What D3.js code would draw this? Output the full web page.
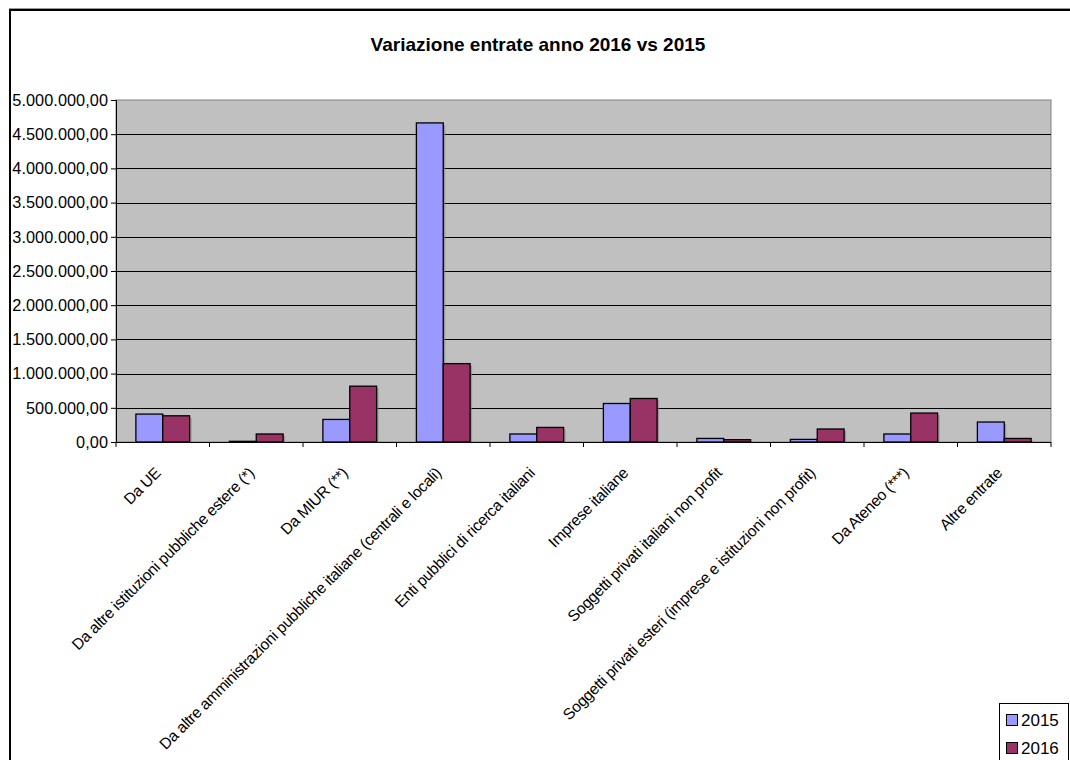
<!DOCTYPE html>
<html>
<head>
<meta charset="utf-8">
<script src="https://cdn.jsdelivr.net/npm/d3@7"></script>
<style>
  html, body { margin: 0; padding: 0; background: #fff; }
  svg { display: block; font-family: "Liberation Sans", Arial, sans-serif; }
</style>
</head>
<body>
<svg id="chart" width="1070" height="760"></svg>
<script>
const categories = [
  "Da UE",
  "Da altre istituzioni pubbliche estere (*)",
  "Da MIUR (**)",
  "Da altre amministrazioni pubbliche italiane (centrali e locali)",
  "Enti pubblici di ricerca italiani",
  "Imprese italiane",
  "Soggetti privati italiani non profit",
  "Soggetti privati esteri (imprese e istituzioni non profit)",
  "Da Ateneo (***)",
  "Altre entrate"
];
const seriesNames = ["2015", "2016"];
const values2015 = [408000, 10000, 330000, 4665000, 117000, 563000, 52000, 38000, 117000, 292000];
const values2016 = [383000, 117000, 816000, 1146000, 213000, 636000, 34000, 190000, 423000, 52000];
const yTicks = [0, 500000, 1000000, 1500000, 2000000, 2500000, 3000000, 3500000, 4000000, 4500000, 5000000];
const colors = ["#9999FF", "#993366"];
const title = "Variazione entrate anno 2016 vs 2015";

const svg = d3.select("#chart");
const W = 1070, H = 760;
const plot = { left: 116, right: 1051, top: 100, bottom: 442 };

// outer chart border
svg.append("rect").attr("x", 10).attr("y", 10).attr("width", W + 10).attr("height", H + 10)
  .attr("fill", "#fff").attr("stroke", "#000").attr("stroke-width", 2);
svg.append("line").attr("x1", 9).attr("x2", W).attr("y1", 8.5).attr("y2", 8.5)
  .attr("stroke", "#999").attr("stroke-width", 1);

svg.append("text").attr("x", 538).attr("y", 51).attr("text-anchor", "middle")
  .attr("font-weight", "bold").attr("font-size", 19).text(title);

const x0 = d3.scaleBand().domain(categories).range([plot.left, plot.right]).paddingInner(0).paddingOuter(0);
const x1 = d3.scaleBand().domain(seriesNames).range([0, x0.bandwidth()]).paddingInner(0).paddingOuter(0.74);
const y = d3.scaleLinear().domain([0, 5000000]).range([plot.bottom, plot.top]);

// plot background
svg.append("rect").attr("x", plot.left).attr("y", plot.top)
  .attr("width", plot.right - plot.left).attr("height", plot.bottom - plot.top)
  .attr("fill", "#C0C0C0").attr("stroke", "#808080").attr("stroke-width", 1);

// gridlines
svg.append("g").selectAll("line").data(yTicks.filter(d => d > 0 && d < 5000000)).join("line")
  .attr("x1", plot.left).attr("x2", plot.right)
  .attr("y1", d => Math.round(y(d)) + 0.5).attr("y2", d => Math.round(y(d)) + 0.5)
  .attr("stroke", "#000").attr("stroke-width", 1);

const fmt = d => {
  const s = d3.format(",.2f")(d);
  return s.replace(/,/g, "#").replace(/\./g, ",").replace(/#/g, ".");
};

// bars
const series = [values2015, values2016];
const g = svg.append("g");
seriesNames.forEach((name, si) => {
  const vals = series[si];
  g.selectAll(null).data(categories).join("rect")
    .attr("x", (c) => x0(c) + x1(name) + 2)
    .attr("y", (c, i) => y(vals[i]) + 2)
    .attr("width", x1.bandwidth())
    .attr("height", (c, i) => Math.max(0, plot.bottom - y(vals[i]) - 2))
    .attr("fill", "#808080").attr("opacity", 0.6);
});
seriesNames.forEach((name, si) => {
  const vals = series[si];
  g.selectAll(null).data(categories).join("rect")
    .attr("x", (c) => x0(c) + x1(name))
    .attr("y", (c, i) => y(vals[i]))
    .attr("width", x1.bandwidth())
    .attr("height", (c, i) => plot.bottom - y(vals[i]))
    .attr("fill", colors[si]).attr("stroke", "#000").attr("stroke-width", 1.3);
});

// y axis
const yAxis = d3.axisLeft(y).tickValues(yTicks).tickSize(5).tickFormat(fmt);
const ya = svg.append("g").attr("transform", `translate(${plot.left},0)`).call(yAxis);
ya.select(".domain").attr("stroke", "#000");
ya.selectAll("text").attr("font-size", 16.3).attr("font-family", "Liberation Sans, Arial, sans-serif")
  .attr("fill", "#000").attr("x", -8).attr("letter-spacing", 0.05);

// x axis
const xa = svg.append("g").attr("transform", `translate(0,${plot.bottom})`);
xa.append("line").attr("x1", plot.left).attr("x2", plot.right).attr("y1", 0.5).attr("y2", 0.5).attr("stroke", "#000");
const tickPos = categories.map(c => x0(c)).concat([plot.right]);
xa.selectAll("line.tk").data(tickPos).join("line").attr("class", "tk")
  .attr("x1", d => d).attr("x2", d => d).attr("y1", 0).attr("y2", 5).attr("stroke", "#000");
xa.selectAll("text").data(categories).join("text")
  .attr("transform", c => `translate(${x0(c) + x0.bandwidth() / 2 - 1},32) rotate(-45)`)
  .attr("text-anchor", "end").attr("font-size", 15.6).attr("letter-spacing", -0.3).text(c => c);

// legend
const lg = svg.append("g");
lg.append("rect").attr("x", 999.5).attr("y", 703.5).attr("width", 69).attr("height", 60)
  .attr("fill", "#fff").attr("stroke", "#000").attr("stroke-width", 1);
seriesNames.forEach((name, i) => {
  const yy = 714 + i * 28;
  lg.append("rect").attr("x", 1006.5).attr("y", yy + 0.5).attr("width", 11).attr("height", 11)
    .attr("fill", colors[i]).attr("stroke", "#000");
  lg.append("text").attr("x", 1021).attr("y", yy + 12).attr("font-size", 17).text(name);
});
</script>
</body>
</html>
